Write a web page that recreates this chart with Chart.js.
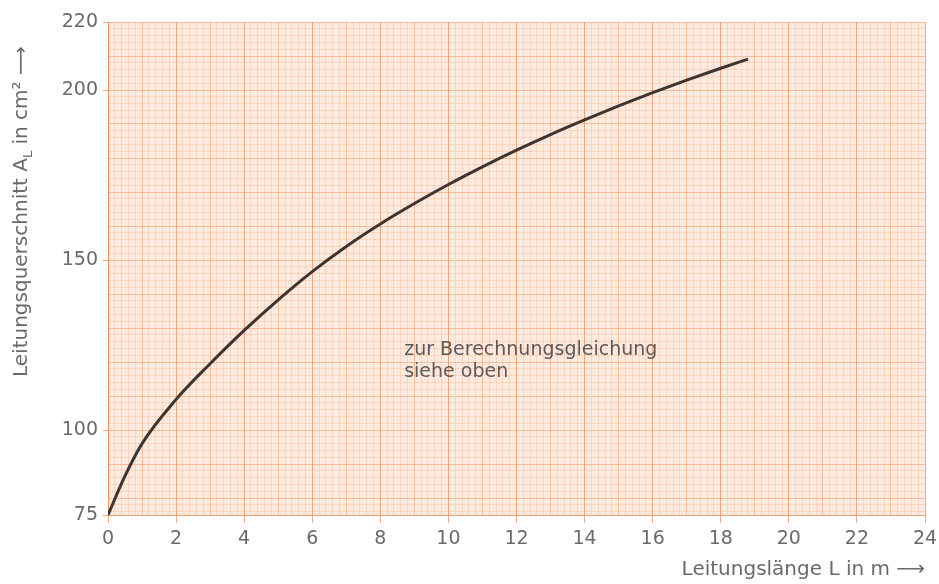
<!DOCTYPE html>
<html>
<head>
<meta charset="utf-8">
<script src="https://cdn.jsdelivr.net/npm/chart.js@4"></script>
<style>
  html, body { margin: 0; padding: 0; background: #fff; }
  #wrap { width: 939px; height: 584px; }
</style>
</head>
<body>
<div id="wrap"><canvas id="chart" width="939" height="584"></canvas></div>
<script>
// Leitungslänge L in m
var lengths = [0, 0.5, 1, 2, 3, 4, 5, 6, 7, 8, 9, 10, 11, 12, 13, 14, 15, 16, 17, 18, 18.8]
// Leitungsquerschnitt A_L in cm²
var areas = [75, 86.5, 96, 109, 119.5, 129.3, 138.3, 146.6, 154, 160.6, 166.6, 172.2, 177.4, 182.3, 186.9, 191.2, 195.3, 199.2, 202.9, 206.4, 209.1]

var xTickLabels = [0, 2, 4, 6, 8, 10, 12, 14, 16, 18, 20, 22, 24]
var yTickLabels = [75, 100, 150, 200, 220]

var noteLines = ['zur Berechnungsgleichung', 'siehe oben']
var yTitle = ['Leitungsquerschnitt A', 'L', ' in cm² ⟶']
var xTitle = 'Leitungslänge L in m ⟶'

var points = lengths.map(function (l, i) { return { x: l, y: areas[i] } })

var fineColor = 'rgba(244,165,120,0.30)'
var midColor = 'rgba(238,145,90,0.50)'
var darkColor = 'rgba(226,135,80,0.70)'
var textColor = '#6a6a6a'
var fontFam = '"DejaVu Sans", Verdana, sans-serif'

function isWhole(v) { return Math.abs(v - Math.round(v)) < 1e-6 }

var paperPlugin = {
    id: 'paper',
    beforeDraw: function (chart) {
        var a = chart.chartArea
        var ctx = chart.ctx
        ctx.save()
        ctx.fillStyle = '#fdeade'
        ctx.fillRect(a.left, a.top, a.right - a.left, a.bottom - a.top)
        ctx.restore()
    },
    afterDraw: function (chart) {
        var ctx = chart.ctx
        var xs = chart.scales.x
        var ys = chart.scales.y
        ctx.save()
        // note in the plot
        ctx.fillStyle = '#5e5a58'
        ctx.font = '19px ' + fontFam
        ctx.textBaseline = 'middle'
        ctx.textAlign = 'left'
        ctx.fillText(noteLines[0], xs.getPixelForValue(8.7), ys.getPixelForValue(123.6))
        ctx.fillText(noteLines[1], xs.getPixelForValue(8.7), ys.getPixelForValue(117.1))

        // y title with subscript L
        ctx.translate(22, 377)
        ctx.rotate(-Math.PI / 2)
        ctx.fillStyle = textColor
        ctx.textBaseline = 'middle'
        ctx.font = '20px ' + fontFam
        var px = 0
        ctx.fillText(yTitle[0], px, 0)
        px += ctx.measureText(yTitle[0]).width
        ctx.font = '13px ' + fontFam
        ctx.fillText(yTitle[1], px, 7)
        px += ctx.measureText(yTitle[1]).width
        ctx.font = '20px ' + fontFam
        ctx.fillText(yTitle[2], px, 0)
        ctx.restore()
    }
}

var ctx = document.getElementById('chart').getContext('2d')
var chart = new Chart(ctx, {
    type: 'line',
    data: {
        datasets: [
            {
                data: points,
                borderColor: '#3e3431',
                borderWidth: 3,
                pointRadius: 0,
                fill: false,
                cubicInterpolationMode: 'monotone'
            }
        ]
    },
    options: {
        responsive: false,
        animation: false,
        layout: { padding: { top: 22, right: 14, left: 0, bottom: 0 } },
        plugins: {
            legend: { display: false },
            tooltip: { enabled: false }
        },
        scales: {
            x: {
                type: 'linear',
                min: 0,
                max: 24,
                afterFit: function (s) {
                    s.height = 69
                    s.paddingRight = 0
                    s.paddingLeft = 0
                },
                title: {
                    display: true,
                    text: xTitle,
                    align: 'end',
                    color: textColor,
                    font: { family: fontFam, size: 20 },
                    padding: { top: 0, bottom: 2 }
                },
                ticks: {
                    stepSize: 0.2,
                    autoSkip: false,
                    maxRotation: 0,
                    minRotation: 0,
                    padding: 5,
                    color: textColor,
                    font: { family: fontFam, size: 19 },
                    callback: function (v) {
                        return (isWhole(v) && xTickLabels.indexOf(Math.round(v)) >= 0) ? String(Math.round(v)) : ''
                    }
                },
                grid: {
                    tickLength: 8,
                    color: function (c) {
                        var v = c.tick ? c.tick.value : 0
                        if (isWhole(v) && Math.round(v) % 2 === 0) return darkColor
                        if (isWhole(v)) return midColor
                        return fineColor
                    },
                    tickColor: function (c) {
                        var v = c.tick ? c.tick.value : 0
                        return (isWhole(v) && Math.round(v) % 2 === 0) ? darkColor : 'rgba(0,0,0,0)'
                    }
                },
                border: { color: darkColor }
            },
            y: {
                type: 'linear',
                min: 75,
                max: 220,
                afterFit: function (s) { s.width = 108 },
                afterBuildTicks: function (s) {
                    var t = []
                    for (var v = 76; v < 220; v += 2) t.push({ value: v })
                    t.unshift({ value: 75 })
                    t.push({ value: 220 })
                    s.ticks = t
                },
                ticks: {
                    autoSkip: false,
                    padding: 5,
                    color: textColor,
                    font: { family: fontFam, size: 19 },
                    callback: function (v) {
                        return yTickLabels.indexOf(v) >= 0 ? String(v) : ''
                    }
                },
                grid: {
                    tickLength: 5,
                    color: function (c) {
                        var v = c.tick ? c.tick.value : 0
                        if (v % 10 === 0) return midColor
                        return fineColor
                    },
                    tickColor: function (c) {
                        var v = c.tick ? c.tick.value : 0
                        return yTickLabels.indexOf(v) >= 0 ? darkColor : 'rgba(0,0,0,0)'
                    }
                },
                border: { color: darkColor }
            }
        }
    },
    plugins: [paperPlugin]
})
</script>
</body>
</html>
